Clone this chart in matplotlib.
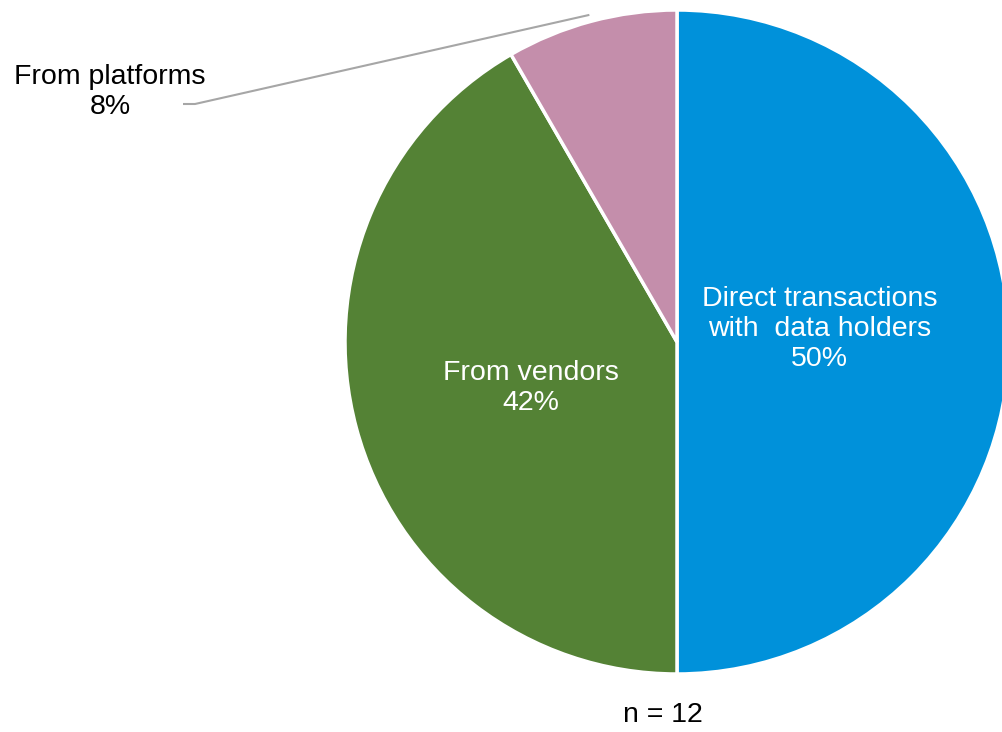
import numpy as np
import matplotlib.pyplot as plt

plt.rcParams['font.family'] = ['Liberation Sans', 'DejaVu Sans']

sources = ['Direct transactions\nwith  data holders', 'From vendors', 'From platforms']
counts = [6, 5, 1]
colors = ['#0091DA', '#548235', '#C48EAB']
n_total = sum(counts)

fig = plt.figure(figsize=(10.02, 7.32), dpi=100)
ax = fig.add_axes([0, 0, 1, 1])

cx, cy, r = 677, 390, 332
wedges, _ = ax.pie(counts, colors=colors, startangle=90, counterclock=False,
                   center=(cx, cy), radius=r, frame=True,
                   wedgeprops=dict(edgecolor='white', linewidth=2.5))
ax.set_xlim(0, 1002)
ax.set_ylim(0, 732)
ax.set_aspect('equal')
ax.axis('off')

pcts = [100 * c / n_total for c in counts]
fs = 20.5
ls = 1.22

# labels inside the two big wedges
inner = {0: (0.43, 13), 1: (0.455, -7)}
for i, (dist, yoff) in inner.items():
    w = wedges[i]
    mid = np.deg2rad((w.theta1 + w.theta2) / 2)
    x = cx + dist * r * np.cos(mid)
    y = cy + dist * r * np.sin(mid) + yoff
    ax.text(x, y, f'{sources[i]}\n{pcts[i]:.0f}%', color='white', fontsize=fs,
            ha='center', va='center', linespacing=ls)

# small wedge gets an outside label with a leader line
w = wedges[2]
mid = np.deg2rad((w.theta1 + w.theta2) / 2)
ex = cx + 1.02 * r * np.cos(mid)
ey = cy + 1.02 * r * np.sin(mid)
ax.plot([ex, 195, 183], [ey, 628, 628], color='#A6A6A6', lw=1.5, solid_capstyle='butt')
ax.text(110, 640, f'{sources[2]}\n{pcts[2]:.0f}%', color='black', fontsize=fs,
        ha='center', va='center', linespacing=ls)

ax.text(663, 4, f'n = {n_total}', color='black', fontsize=fs, ha='center', va='bottom')

fig.savefig('out.png', dpi=100)
